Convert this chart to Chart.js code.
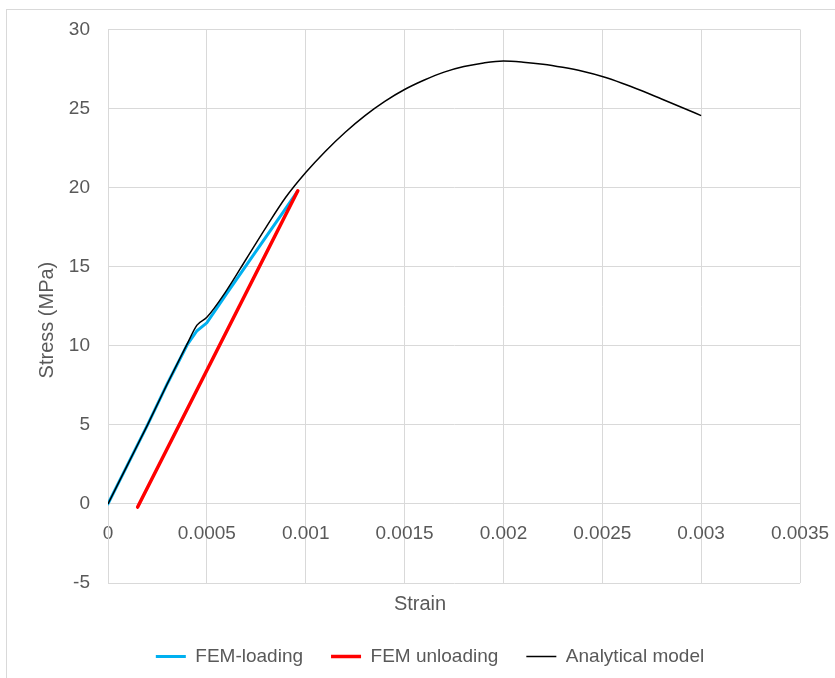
<!DOCTYPE html>
<html>
<head>
<meta charset="utf-8">
<script src="https://cdn.jsdelivr.net/npm/chart.js@4.4.1/dist/chart.umd.min.js"></script>
<style>
  body { margin: 0; background: #fff; }
  #wrap { position: relative; width: 835px; height: 678px; overflow: hidden; }
  #frame { position: absolute; left: 6px; top: 9px; width: 900px; height: 700px; border: 1px solid #d9d9d9; }
  canvas { position: absolute; left: 0; top: 0; }
</style>
</head>
<body>
<div id="wrap">
  <div id="frame"></div>
  <canvas id="chart" width="835" height="678"></canvas>
</div>
<script>
// FEM loading curve (strain, stress MPa)
const loadingStrain = [0, 0.0001, 0.0002, 0.0003, 0.0004, 0.00045, 0.0005, 0.0006, 0.0007, 0.0008, 0.0009, 0.000955];
const loadingStress = [0, 2.5, 5.0, 7.6, 10.05, 10.95, 11.45, 13.3, 15.1, 16.9, 18.7, 19.7];

// FEM unloading curve
const unloadingStrain = [0.00015, 0.00096];
const unloadingStress = [-0.2, 19.8];

// analytical model
const modelStrain = [0, 0.0001, 0.0002, 0.0003, 0.0004, 0.00045, 0.0005, 0.0006, 0.0007, 0.0008, 0.0009,
  0.001, 0.0011, 0.0012, 0.0013, 0.0014, 0.0015, 0.0016, 0.0017, 0.0018, 0.0019, 0.002,
  0.0021, 0.0022, 0.0023, 0.0024, 0.0025, 0.0026, 0.0027, 0.0028, 0.0029, 0.003];
const modelStress = [0, 2.5, 5.0, 7.6, 10.1, 11.3, 11.8, 13.5, 15.5, 17.5, 19.4,
  20.95, 22.3, 23.5, 24.55, 25.45, 26.2, 26.8, 27.3, 27.65, 27.88, 28.0,
  27.93, 27.8, 27.6, 27.35, 27.02, 26.6, 26.12, 25.6, 25.08, 24.55];

const xTickLabels = ['0', '0.0005', '0.001', '0.0015', '0.002', '0.0025', '0.003', '0.0035'];
const yTickLabels = ['-5', '0', '5', '10', '15', '20', '25', '30'];

function pairs(xs, ys) {
  return xs.map(function(x, i) { return {x: x, y: ys[i]}; });
}

const textColor = '#595959';
const gridColor = '#d9d9d9';
const family = '"Liberation Sans", Arial, sans-serif';

// Excel centres legend / axis title a bit right of the canvas middle
const nudgeBoxes = {
  id: 'nudge_boxes',
  afterLayout: (chart) => {
    chart.legend.left += 30;
    chart.legend.right += 30;
    chart.titleBlock.left += 20;
    chart.titleBlock.right += 20;
  }
};

const ctx = document.getElementById('chart').getContext('2d');
const chart = new Chart(ctx, {
  type: 'line',
  plugins: [nudgeBoxes],
  data: {
    datasets: [
      {
        label: 'FEM-loading',
        data: pairs(loadingStrain, loadingStress),
        borderColor: '#00b0f0',
        backgroundColor: '#00b0f0',
        borderWidth: 3,
        borderCapStyle: 'round',
        pointRadius: 0,
        order: 2
      },
      {
        label: 'FEM unloading',
        data: pairs(unloadingStrain, unloadingStress),
        borderColor: '#ff0000',
        backgroundColor: '#ff0000',
        borderWidth: 3.5,
        borderCapStyle: 'round',
        pointRadius: 0,
        order: 1
      },
      {
        label: 'Analytical model',
        data: pairs(modelStrain, modelStress),
        borderColor: '#000000',
        backgroundColor: '#000000',
        borderWidth: 1.5,
        cubicInterpolationMode: 'monotone',
        pointRadius: 0,
        order: 0
      }
    ]
  },
  options: {
    responsive: false,
    animation: false,
    layout: { padding: { left: 0, right: 35, top: 28, bottom: 2 } },
    plugins: {
      tooltip: { enabled: false },
      title: {
        display: true,
        text: 'Strain',
        position: 'bottom',
        weight: 500,
        color: textColor,
        font: { family: family, size: 20, weight: 'normal' },
        padding: { top: 9, bottom: 3 }
      },
      legend: {
        position: 'bottom',
        labels: {
          usePointStyle: true,
          pointStyle: 'line',
          pointStyleWidth: 30,
          padding: 28,
          color: textColor,
          font: { family: family, size: 19 },
          sort: function(a, b) { return a.datasetIndex - b.datasetIndex; }
        }
      }
    },
    scales: {
      x: {
        type: 'linear',
        position: { y: 0 },
        min: 0,
        max: 0.0035,
        border: { color: gridColor },
        grid: { color: gridColor, drawTicks: false },
        ticks: {
          stepSize: 0.0005,
          padding: 18,
          color: textColor,
          font: { family: family, size: 19 },
          maxRotation: 0,
          callback: function(value, index) { return xTickLabels[index]; }
        },
        afterFit: function(scale) {
          scale.paddingLeft = 0;
          scale.paddingRight = 0;
        }
      },
      y: {
        type: 'linear',
        min: -5,
        max: 30,
        border: { color: gridColor },
        grid: { color: gridColor, drawTicks: false },
        ticks: {
          stepSize: 5,
          padding: 18,
          color: textColor,
          font: { family: family, size: 19 },
          callback: function(value, index) { return yTickLabels[index]; }
        },
        title: {
          display: true,
          text: 'Stress (MPa)\u00a0\u00a0\u00a0\u00a0\u00a0',
          color: textColor,
          font: { family: family, size: 20 },
          padding: { top: 35, bottom: 0 }
        },
        afterFit: function(scale) { scale.width = 108; }
      }
    }
  }
});
</script>
</body>
</html>
